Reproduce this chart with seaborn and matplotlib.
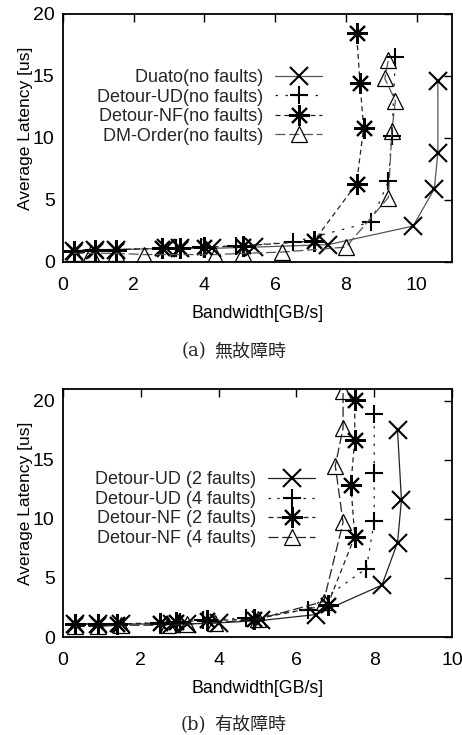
import matplotlib
matplotlib.use("Agg")
import matplotlib.pyplot as plt
import seaborn as sns
import pandas as pd

sns.set_theme(style="white")
plt.rcParams['font.family'] = ['Liberation Sans', 'Noto Sans CJK JP', 'DejaVu Sans']

# ---------------- data: (a) no faults ----------------
duato_x = [0.3, 0.9, 1.5, 2.9, 3.3, 4.2, 5.4, 7.5, 9.9, 10.5, 10.6, 10.6]
duato_y = [0.9, 1.0, 1.0, 1.1, 1.1, 1.1, 1.2, 1.4, 2.9, 5.9, 8.8, 14.6]
ud_x = [0.3, 0.9, 1.5, 2.8, 3.2, 3.9, 4.9, 6.5, 8.7, 9.2, 9.3, 9.4]
ud_y = [0.9, 1.0, 1.0, 1.1, 1.1, 1.2, 1.3, 1.6, 3.2, 6.5, 10.2, 16.5]
nf_x = [0.3, 0.9, 1.5, 2.8, 3.3, 4.0, 5.1, 7.1, 8.3, 8.5, 8.4, 8.3]
nf_y = [0.9, 1.0, 1.0, 1.1, 1.1, 1.2, 1.3, 1.7, 6.3, 10.8, 14.4, 18.5]
dm_x = [0.3, 0.8, 1.5, 2.3, 4.3, 5.1, 6.2, 8.0, 9.2, 9.3, 9.4, 9.1, 9.2]
dm_y = [0.7, 0.7, 0.7, 0.6, 0.6, 0.7, 0.8, 1.2, 5.2, 10.6, 13.0, 14.8, 16.3]
labels_a = ["Duato(no faults)", "Detour-UD(no faults)", "Detour-NF(no faults)", "DM-Order(no faults)"]

# ---------------- data: (b) with faults ----------------
ud2_x = [0.3, 0.9, 1.5, 2.8, 3.2, 4.0, 5.1, 6.5, 8.2, 8.6, 8.7, 8.6]
ud2_y = [1.1, 1.1, 1.1, 1.1, 1.1, 1.2, 1.4, 1.9, 4.4, 8.0, 11.6, 17.5]
ud4_x = [0.3, 0.9, 1.4, 2.5, 3.0, 3.6, 4.7, 6.3, 7.8, 8.0, 8.0, 8.0]
ud4_y = [1.1, 1.1, 1.1, 1.2, 1.3, 1.4, 1.6, 2.3, 5.8, 9.8, 13.9, 18.9]
nf2_x = [0.3, 0.9, 1.4, 2.5, 2.9, 3.7, 4.9, 6.8, 7.5, 7.4, 7.5, 7.5]
nf2_y = [1.1, 1.1, 1.1, 1.2, 1.3, 1.4, 1.5, 2.7, 8.5, 12.9, 16.7, 20.1]
nf4_x = [0.3, 0.9, 1.5, 2.7, 3.2, 3.9, 5.0, 6.7, 7.2, 7.0, 7.2, 7.2]
nf4_y = [0.9, 0.9, 1.0, 1.0, 1.1, 1.2, 1.5, 3.0, 9.7, 14.5, 17.7, 20.8]
labels_b = ["Detour-UD (2 faults)", "Detour-UD (4 faults)", "Detour-NF (2 faults)", "Detour-NF (4 faults)"]

ASTER = (8, 2, 0)
styles = [
    dict(marker='x', linestyle='-', color='#555555', mec='black'),
    dict(marker='+', linestyle=(0, (2, 6)), color='#222222', mec='black'),
    dict(marker=ASTER, linestyle=(0, (4, 3)), color='#222222', mec='black'),
    dict(marker='^', linestyle=(0, (8, 3)), color='#555555', mec='black', mfc='none'),
]
styles_b = [
    dict(marker='x', linestyle='-', color='#222222', mec='black'),
    dict(marker='+', linestyle=(0, (2, 5)), color='#222222', mec='black'),
    dict(marker=ASTER, linestyle=(0, (4, 3)), color='#222222', mec='black'),
    dict(marker='^', linestyle=(0, (8, 3)), color='#222222', mec='black', mfc='none'),
]

fig = plt.figure(figsize=(4.62, 7.35), dpi=100)
ax1 = fig.add_axes([63/462, 1-262/735, (452-63)/462, (262-14)/735])
ax2 = fig.add_axes([63/462, 1-637/735, (452-63)/462, (637-389)/735])


def draw(ax, series, labels, stys):
    for (xs, ys), lab, st in zip(series, labels, stys):
        df = pd.DataFrame({"bw": xs, "lat": ys})
        st = dict(st)
        mfc = st.pop('mfc', None)
        kw = dict(markersize=13, markeredgewidth=1.5, linewidth=0.9)
        if st['marker'] == ASTER:
            kw['markersize'] = 15
            kw['markeredgewidth'] = 1.5
        if mfc is not None:
            kw['markerfacecolor'] = mfc
            kw['markersize'] = 12
            kw['markeredgewidth'] = 0.9
        sns.lineplot(data=df, x="bw", y="lat", ax=ax, sort=False, estimator=None,
                     label=lab, marker=st['marker'], linestyle=st['linestyle'],
                     color=st['color'], markeredgecolor=st['mec'], **kw)


def style_axes(ax, xmax, ymax, xticks, yticks):
    ax.set_xlim(0, xmax)
    ax.set_ylim(0, ymax)
    ax.set_xticks(xticks)
    ax.set_yticks(yticks)
    ax.tick_params(direction='in', length=6, width=1.0, top=True, right=True,
                   labelsize=14, colors='black')
    ax.tick_params(axis='x', pad=11)
    ax.tick_params(axis='y', pad=6)
    for s in ax.spines.values():
        s.set_color('black')
        s.set_linewidth(1.3)
    ax.set_xlabel("Bandwidth[GB/s]", fontsize=12.8, color='black', labelpad=8)
    ax.set_ylabel("Average Latency [us]", fontsize=12.5, color='black')
    ax.yaxis.set_label_coords(-0.077, 0.54)


leg_kw = dict(frameon=False, markerfirst=False, fontsize=13, handlelength=2.6,
              handletextpad=0.66, labelspacing=0.14, borderaxespad=0, borderpad=0)

draw(ax1, [(duato_x, duato_y), (ud_x, ud_y), (nf_x, nf_y), (dm_x, dm_y)], labels_a, styles)
style_axes(ax1, 11, 20, [0, 2, 4, 6, 8, 10], [0, 5, 10, 15, 20])
ax1.legend(loc='upper right', bbox_to_anchor=(0.666, 0.778), **leg_kw)

draw(ax2, [(ud2_x, ud2_y), (ud4_x, ud4_y), (nf2_x, nf2_y), (nf4_x, nf4_y)], labels_b, styles_b)
style_axes(ax2, 10, 21, [0, 2, 4, 6, 8, 10], [0, 5, 10, 15, 20])
ax2.legend(loc='upper right', bbox_to_anchor=(0.648, 0.668), **leg_kw)

# captions
for ytop, lab, jp in [(351, "(a)", "無故障時"), (725, "(b)", "有故障時")]:
    fig.text(206/462, 1-ytop/735, lab, ha='right', va='center', fontsize=13,
             family=['DejaVu Serif'])
    fig.text(214/462, 1-ytop/735, jp, ha='left', va='center', fontsize=13,
             family=['Noto Sans CJK JP', 'DejaVu Sans'])

fig.savefig("out.png", dpi=100)
